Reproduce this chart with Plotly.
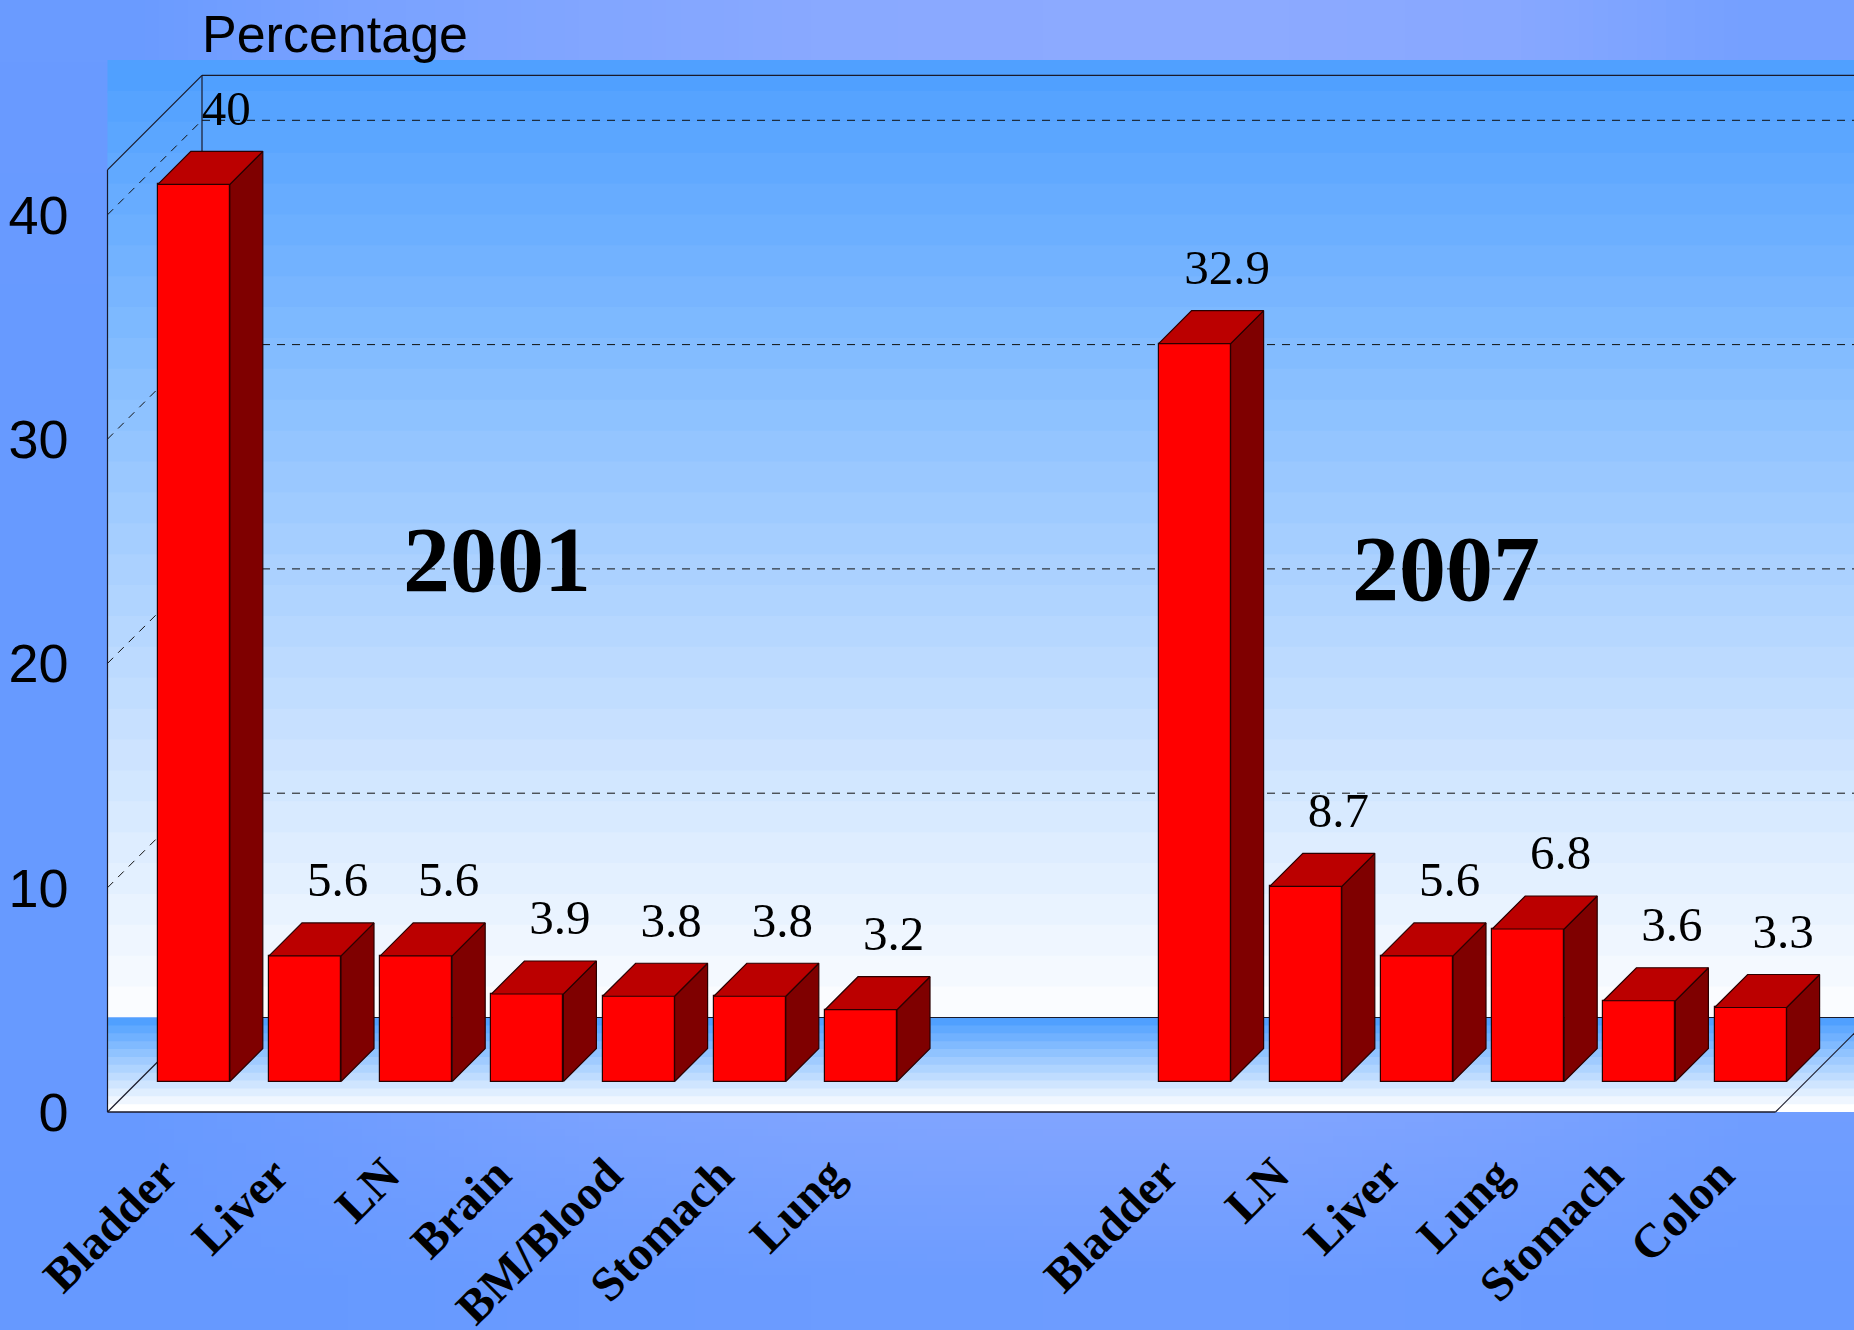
import base64, struct, zlib
import plotly.graph_objects as go

# ---- data ----
cats_2001 = ["Bladder", "Liver", "LN", "Brain", "BM/Blood", "Stomach", "Lung"]
vals_2001 = [40, 5.6, 5.6, 3.9, 3.8, 3.8, 3.2]
cats_2007 = ["Bladder", "LN", "Liver", "Lung", "Stomach", "Colon"]
vals_2007 = [32.9, 8.7, 5.6, 6.8, 3.6, 3.3]
y_ticks = [0, 10, 20, 30, 40]
slots_2001 = [0, 1, 2, 3, 4, 5, 6]
slots_2007 = [9, 10, 11, 12, 13, 14]

# page background tint (0 edge blue .. 1 lightest), read by eye, rows top to bottom
bg_tint = [
    [0.10, 0.50, 0.75, 0.92, 1.00, 1.00, 0.90, 0.40],
    [0.08, 0.40, 0.70, 0.90, 1.00, 1.00, 0.85, 0.35],
    [0.05, 0.30, 0.60, 0.85, 1.00, 1.00, 0.80, 0.30],
    [0.03, 0.25, 0.55, 0.80, 0.95, 0.95, 0.75, 0.30],
    [0.03, 0.25, 0.55, 0.80, 0.95, 0.95, 0.75, 0.30],
    [0.03, 0.25, 0.55, 0.80, 0.95, 0.95, 0.75, 0.30],
    [0.03, 0.25, 0.55, 0.80, 0.95, 0.95, 0.75, 0.30],
    [0.03, 0.25, 0.55, 0.80, 0.90, 0.90, 0.70, 0.30],
    [0.03, 0.35, 0.70, 0.90, 0.95, 0.95, 0.75, 0.35],
    [0.03, 0.35, 0.70, 0.85, 0.90, 0.90, 0.70, 0.35],
    [0.02, 0.20, 0.40, 0.50, 0.55, 0.55, 0.42, 0.22],
    [0.00, 0.03, 0.10, 0.15, 0.18, 0.18, 0.12, 0.06],
]
C_EDGE, C_LIGHT = (102, 153, 255), (140, 170, 255)

W, H = 1854, 1330
PITCH, UNIT = 111.2, 22.43            # px per slot, px per percentage point
X0, Y0 = 107.5, 1112.0                # px of the front-bottom-left corner
WALL_DX, WALL_DY = 94.5 / PITCH, 94.5 / UNIT
BAR_DX, BAR_DY = 33.0 / PITCH, 33.0 / UNIT
BASE_DX, BASE_DY = 30.7 / PITCH, 30.5 / UNIT
BAR_W = 72.0 / PITCH
Y_TOP = 42.0
SLOTS = 15

def xd(px): return (px - X0) / PITCH
def yd(px): return (Y0 - px) / UNIT

# background image
def png(rows):
    raw = b""
    for r in rows:
        raw += b"\x00"
        for t in r:
            raw += bytes(round(a + (b - a) * t) for a, b in zip(C_EDGE, C_LIGHT))
    def chunk(tag, d):
        return struct.pack(">I", len(d)) + tag + d + struct.pack(">I", zlib.crc32(tag + d))
    ihdr = struct.pack(">IIBBBBB", len(rows[0]), len(rows), 8, 2, 0, 0, 0)
    return b"\x89PNG\r\n\x1a\n" + chunk(b"IHDR", ihdr) + chunk(b"IDAT", zlib.compress(raw)) + chunk(b"IEND", b"")

bg_uri = "data:image/png;base64," + base64.b64encode(png(bg_tint)).decode()

shapes = []
def mix(t, top=(80, 160, 255), bottom=(250, 252, 255)):
    return "rgb(%d,%d,%d)" % tuple(round(a + (b - a) * t) for a, b in zip(top, bottom))

def bands(py_top, py_bot, n, bottom):
    # each band starts where the previous one ends and runs on under the next, so no seams show
    for i in range(n):
        a = py_top + (py_bot - py_top) * i / n
        b = py_top + (py_bot - py_top) * (i + 1) / n + (2 if i < n - 1 else 0)
        shapes.append(dict(type="rect", layer="below", xref="x", yref="y", x0=0, x1=xd(W),
                           y0=yd(b), y1=yd(a), line_width=0,
                           fillcolor=mix(i / (n - 1), bottom=bottom)))

bands(60, Y0 - 94.5, 31, (250, 252, 255))
bands(Y0 - 94.5, Y0, 12, (255, 255, 255))

def line(x0, y0, x1, y1, dash="solid", color="#1a1a2a", width=1.2):
    shapes.append(dict(type="line", layer="below", xref="x", yref="y", x0=x0, y0=y0, x1=x1, y1=y1,
                       line=dict(color=color, width=width, dash=dash)))

x_right = xd(W)
for v in y_ticks[1:]:
    line(WALL_DX, v + WALL_DY, x_right, v + WALL_DY, dash="8px,7px", color="#111", width=1)
    line(0, v, WALL_DX, v + WALL_DY, dash="8px,7px", color="#111", width=1)
line(WALL_DX, Y_TOP + WALL_DY, x_right, Y_TOP + WALL_DY)
line(0, Y_TOP, WALL_DX, Y_TOP + WALL_DY)
line(0, 0, 0, Y_TOP)
line(WALL_DX, WALL_DY, WALL_DX, Y_TOP + WALL_DY)
line(0, 0, WALL_DX, WALL_DY)
line(WALL_DX, WALL_DY, x_right, WALL_DY)
line(0, 0, SLOTS, 0, width=1.6)
line(SLOTS, 0, SLOTS + WALL_DX, WALL_DY)

slots = slots_2001 + slots_2007
vals = vals_2001 + vals_2007
cats = cats_2001 + cats_2007
centers = [s + 0.5 + BASE_DX for s in slots]

side_x, side_y, top_x, top_y = [], [], [], []
for c, v in zip(centers, vals):
    l, r = c - BAR_W / 2, c + BAR_W / 2
    t = BASE_DY + v
    side_x += [r, r + BAR_DX, r + BAR_DX, r, r, None]
    side_y += [BASE_DY, BASE_DY + BAR_DY, t + BAR_DY, t, BASE_DY, None]
    top_x += [l, r, r + BAR_DX, l + BAR_DX, l, None]
    top_y += [t, t, t + BAR_DY, t + BAR_DY, t, None]

EDGE = "#2a0000"
fig = go.Figure()
fig.add_trace(go.Bar(x=centers, y=vals, base=BASE_DY, width=BAR_W, marker=dict(color="#ff0000", line=dict(color=EDGE, width=1.2)),
                     showlegend=False))
fig.add_trace(go.Scatter(x=side_x, y=side_y, mode="lines", fill="toself", fillcolor="#7f0000",
                         line=dict(color=EDGE, width=1.2), showlegend=False))
fig.add_trace(go.Scatter(x=top_x, y=top_y, mode="lines", fill="toself", fillcolor="#bb0000",
                         line=dict(color=EDGE, width=1.2), showlegend=False))
LABEL_DX, LABEL_DY = 32.5 / PITCH, 39 / UNIT
fig.add_trace(go.Scatter(x=[c + LABEL_DX for c in centers],
                         y=[BASE_DY + BAR_DY + v + LABEL_DY for v in vals],
                         mode="text", text=[str(v) for v in vals], textposition="middle center",
                         textfont=dict(family="Liberation Serif", size=49, color="#000"),
                         showlegend=False))

fig.update_layout(
    width=W, height=H, margin=dict(l=0, r=0, t=0, b=0, autoexpand=False), autosize=False, showlegend=False,
    paper_bgcolor="#6699ff", plot_bgcolor="rgba(0,0,0,0)", shapes=shapes,
    images=[dict(source=bg_uri, xref="paper", yref="paper", x=0, y=1, sizex=1, sizey=1,
                 sizing="stretch", xanchor="left", yanchor="top", layer="below")],
    annotations=[
        dict(text="Percentage", xref="paper", yref="paper", x=200 / W, y=1 - 34 / H, xanchor="left", yanchor="middle",
             showarrow=False, font=dict(family="Liberation Sans", size=52, color="#000")),
        dict(text="<b>2001</b>", xref="x", yref="y", x=xd(497), y=yd(559), showarrow=False,
             font=dict(family="Liberation Serif", size=94, color="#000")),
        dict(text="<b>2007</b>", xref="x", yref="y", x=xd(1446), y=yd(568), showarrow=False,
             font=dict(family="Liberation Serif", size=94, color="#000")),
    ],
    xaxis=dict(range=[xd(0), xd(W)], anchor="free", position=(H - Y0) / H, showgrid=False, zeroline=False,
               showline=False, ticks="", tickmode="array", tickvals=[s + 0.5 for s in slots], ticktext=[f"<b>{c}</b>" for c in cats],
               tickangle=-45, ticklabelstandoff=24,
               tickfont=dict(family="Liberation Serif", size=48, color="#000")),
    yaxis=dict(range=[yd(H), yd(0)], anchor="free", position=X0 / W, showgrid=False, zeroline=False,
               showline=False, ticks="", tickmode="array", tickvals=y_ticks, ticktext=[str(v) for v in y_ticks],
               ticklabelstandoff=39,
               tickfont=dict(family="Liberation Sans", size=54, color="#000")),
    bargap=0,
)
fig.write_html("out.html", config={"displayModeBar": False},
               post_script="document.body.style.margin='0';document.body.style.overflow='hidden';")
